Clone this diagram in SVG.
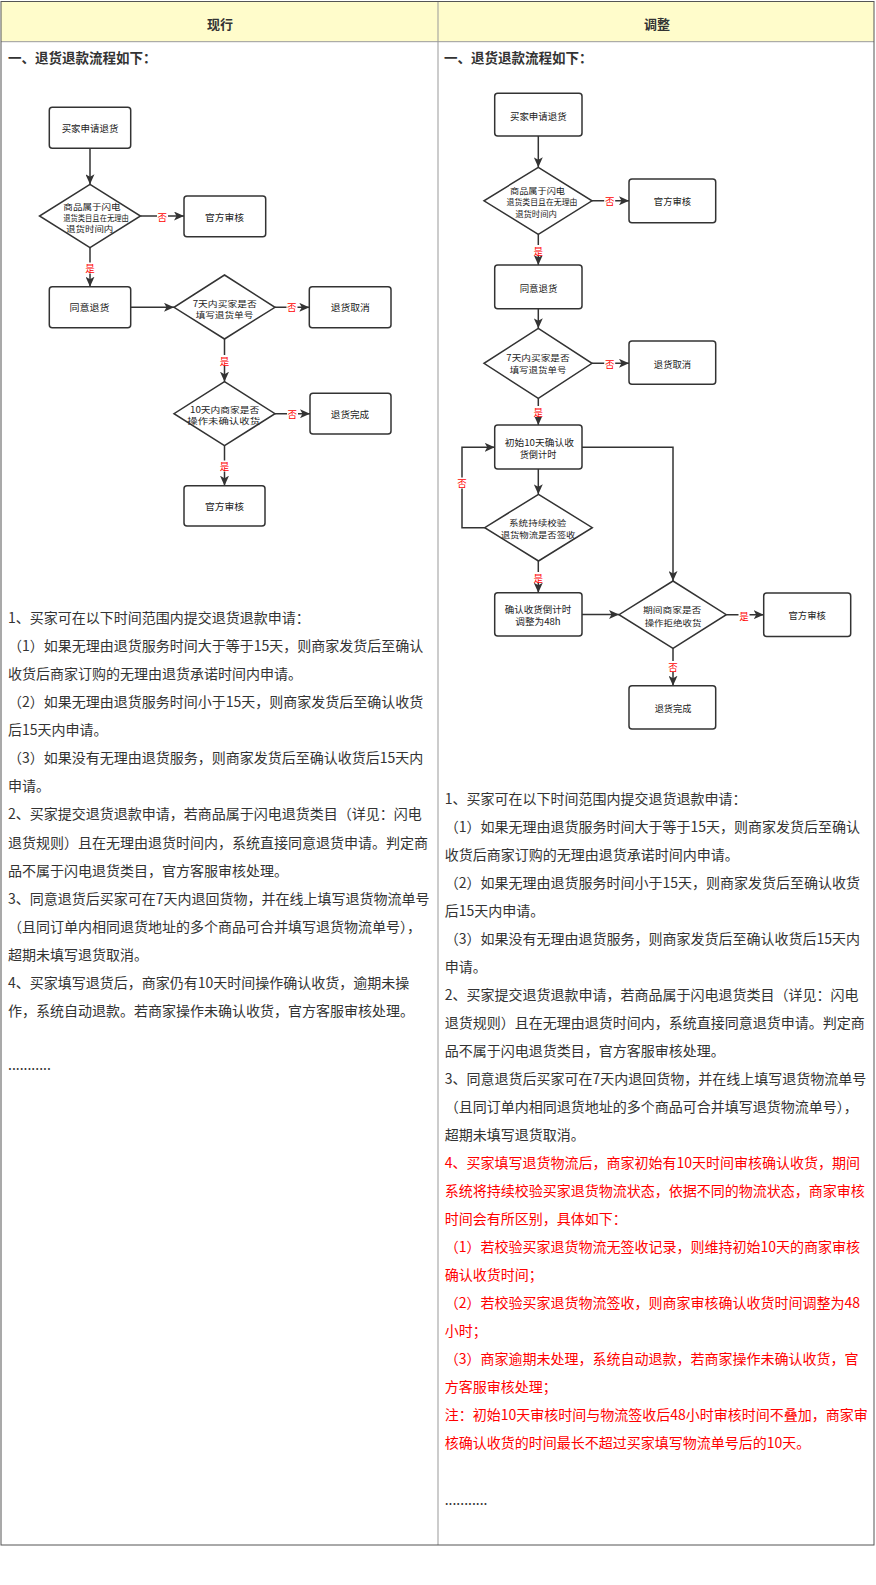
<svg xmlns="http://www.w3.org/2000/svg" width="876" height="1585" viewBox="0 0 876 1585">
<style>
.cjk{font-family:"Noto Sans CJK SC","Noto Sans",sans-serif}
.hd{font-size:13px;font-weight:bold;fill:#333;text-anchor:middle;dominant-baseline:central}
.h1{font-size:13.5px;font-weight:bold;fill:#333;dominant-baseline:central}
.bt{font-size:14px;fill:#333;dominant-baseline:central}
.rd{fill:#f00}
.nb{fill:#fff;stroke:#333;stroke-width:1.5}
.nt{font-size:9.5px;fill:#222;text-anchor:middle;dominant-baseline:central}
.dt{font-size:8.5px}
.ln{fill:none;stroke:#333;stroke-width:1.5}
.lb{font-size:9.5px;fill:#f00;text-anchor:middle;dominant-baseline:central}
.lbg{fill:#fff}
</style>
<defs>
<marker id="arr" markerUnits="userSpaceOnUse" markerWidth="10" markerHeight="9" refX="10" refY="4.5" orient="auto">
<path d="M0,0 L10,4.5 L0,9 L2.5,4.5 z" fill="#333"/>
</marker>
</defs>
<rect width="876" height="1585" fill="#fff"/>
<g id="table">
<rect x="1" y="1.5" width="873" height="40" fill="#fffccb"/>
<line x1="1" y1="41.7" x2="874" y2="41.7" stroke="#999" stroke-width="1"/>
<line x1="438" y1="1.5" x2="438" y2="1545" stroke="#999" stroke-width="1"/>
<rect x="1" y="1.5" width="873" height="1543.5" fill="none" stroke="#555" stroke-width="1"/>
<text class="cjk hd" x="220" y="23">现行</text>
<text class="cjk hd" x="657" y="23">调整</text>
<text class="cjk h1" x="8" y="57">一、退货退款流程如下：</text>
<text class="cjk h1" x="444" y="57">一、退货退款流程如下：</text>
</g>
<g id="connectors">
<line class="ln" x1="90" y1="148.3" x2="90" y2="184.3" marker-end="url(#arr)"/>
<line class="ln" x1="140.5" y1="216" x2="184" y2="216" marker-end="url(#arr)"/>
<line class="ln" x1="90" y1="247.7" x2="90" y2="286.7" marker-end="url(#arr)"/>
<line class="ln" x1="130.7" y1="307.3" x2="174" y2="307.3" marker-end="url(#arr)"/>
<line class="ln" x1="275" y1="307.3" x2="309.3" y2="307.3" marker-end="url(#arr)"/>
<line class="ln" x1="224.5" y1="339" x2="224.5" y2="381.7" marker-end="url(#arr)"/>
<line class="ln" x1="275" y1="413.7" x2="310" y2="413.7" marker-end="url(#arr)"/>
<line class="ln" x1="224.5" y1="445.7" x2="224.5" y2="485.7" marker-end="url(#arr)"/>
<line class="ln" x1="538.3" y1="136" x2="538.3" y2="167.3" marker-end="url(#arr)"/>
<line class="ln" x1="592" y1="200.8" x2="629" y2="200.8" marker-end="url(#arr)"/>
<line class="ln" x1="538.3" y1="234.3" x2="538.3" y2="265" marker-end="url(#arr)"/>
<line class="ln" x1="538.3" y1="308.7" x2="538.3" y2="328.3" marker-end="url(#arr)"/>
<line class="ln" x1="592" y1="363.3" x2="629" y2="363.3" marker-end="url(#arr)"/>
<line class="ln" x1="538.3" y1="398.3" x2="538.3" y2="425" marker-end="url(#arr)"/>
<line class="ln" x1="538.3" y1="469" x2="538.3" y2="494.3" marker-end="url(#arr)"/>
<polyline class="ln" points="484.7,527.7 462,527.7 462,447.3 494.7,447.3" marker-end="url(#arr)"/>
<polyline class="ln" points="582,447.3 673,447.3 673,581" marker-end="url(#arr)"/>
<line class="ln" x1="538.3" y1="561" x2="538.3" y2="592.7" marker-end="url(#arr)"/>
<line class="ln" x1="582" y1="614.5" x2="619" y2="614.5" marker-end="url(#arr)"/>
<line class="ln" x1="726.3" y1="614.7" x2="763.7" y2="614.7" marker-end="url(#arr)"/>
<line class="ln" x1="673" y1="648.3" x2="673" y2="685.7" marker-end="url(#arr)"/>
<rect class="lbg" x="157" y="211" width="11" height="11"/><text class="cjk lb" x="162.3" y="216.5">否</text>
<rect class="lbg" x="84.5" y="262.5" width="11" height="11"/><text class="cjk lb" x="90" y="268.3">是</text>
<rect class="lbg" x="286.5" y="302" width="11" height="11"/><text class="cjk lb" x="291.7" y="307.3">否</text>
<rect class="lbg" x="219" y="355" width="11" height="11"/><text class="cjk lb" x="224.5" y="360.7">是</text>
<rect class="lbg" x="287" y="408" width="11" height="11"/><text class="cjk lb" x="292.3" y="413.5">否</text>
<rect class="lbg" x="219" y="460.5" width="11" height="11"/><text class="cjk lb" x="224.5" y="466">是</text>
<rect class="lbg" x="604.2" y="195.5" width="11" height="11"/><text class="cjk lb" x="609.7" y="201.2">否</text>
<rect class="lbg" x="532.8" y="245" width="11" height="11"/><text class="cjk lb" x="538.3" y="250.7">是</text>
<rect class="lbg" x="604.2" y="358" width="11" height="11"/><text class="cjk lb" x="609.7" y="363.5">否</text>
<rect class="lbg" x="532.8" y="406" width="11" height="11"/><text class="cjk lb" x="538.3" y="411.7">是</text>
<rect class="lbg" x="456.5" y="477.5" width="11" height="11"/><text class="cjk lb" x="462" y="483.3">否</text>
<rect class="lbg" x="532.8" y="572" width="11" height="11"/><text class="cjk lb" x="538.3" y="577.7">是</text>
<rect class="lbg" x="738.5" y="610" width="11" height="11"/><text class="cjk lb" x="744" y="615.5">是</text>
<rect class="lbg" x="667.5" y="661" width="11" height="11"/><text class="cjk lb" x="673" y="666.7">否</text>
</g>
<g id="L_apply">
<rect class="nb" x="49.3" y="107.3" width="81.4" height="41" rx="3"/>
<text class="cjk nt" x="90" y="127.8" textLength="56.7" lengthAdjust="spacingAndGlyphs">买家申请退货</text>
</g>
<g id="L_dec_flash">
<polygon class="nb" points="90,184.3 140.5,216 90,247.7 39.5,216"/>
<text class="cjk nt dt" x="92" y="206" textLength="57.3" lengthAdjust="spacingAndGlyphs">商品属于闪电</text>
<text class="cjk nt dt" x="96" y="217.2" textLength="65.7" lengthAdjust="spacingAndGlyphs">退货类目且在无理由</text>
<text class="cjk nt dt" x="89.7" y="228.3" textLength="47.3" lengthAdjust="spacingAndGlyphs">退货时间内</text>
</g>
<g id="L_official1">
<rect class="nb" x="184" y="196" width="81.7" height="40.7" rx="3"/>
<text class="cjk nt" x="224.5" y="216.5" textLength="39" lengthAdjust="spacingAndGlyphs">官方审核</text>
</g>
<g id="L_agree">
<rect class="nb" x="49.3" y="286.7" width="81.4" height="41" rx="3"/>
<text class="cjk nt" x="89.5" y="307.3" textLength="40" lengthAdjust="spacingAndGlyphs">同意退货</text>
</g>
<g id="L_dec_7days">
<polygon class="nb" points="224.5,275 275,307.3 224.5,339 174,307.3"/>
<text class="cjk nt dt" x="224.7" y="302.6" textLength="64" lengthAdjust="spacingAndGlyphs">7天内买家是否</text>
<text class="cjk nt dt" x="224.5" y="313.8" textLength="57.7" lengthAdjust="spacingAndGlyphs">填写退货单号</text>
</g>
<g id="L_cancel">
<rect class="nb" x="309.3" y="286.7" width="81.7" height="41" rx="3"/>
<text class="cjk nt" x="350.3" y="307.3" textLength="39.3" lengthAdjust="spacingAndGlyphs">退货取消</text>
</g>
<g id="L_dec_10days">
<polygon class="nb" points="224.5,381.7 275,413.7 224.5,445.7 174,413.7"/>
<text class="cjk nt dt" x="224.7" y="408.7" textLength="69.3" lengthAdjust="spacingAndGlyphs">10天内商家是否</text>
<text class="cjk nt dt" x="223.7" y="420.3" textLength="72.7" lengthAdjust="spacingAndGlyphs">操作未确认收货</text>
</g>
<g id="L_done">
<rect class="nb" x="310" y="393.3" width="81" height="40.7" rx="3"/>
<text class="cjk nt" x="350" y="413.5" textLength="38.3" lengthAdjust="spacingAndGlyphs">退货完成</text>
</g>
<g id="L_official2">
<rect class="nb" x="184" y="485.7" width="81" height="40.3" rx="3"/>
<text class="cjk nt" x="224.5" y="505.8" textLength="39" lengthAdjust="spacingAndGlyphs">官方审核</text>
</g>
<g id="R_apply">
<rect class="nb" x="494.7" y="93.3" width="87.3" height="42.7" rx="3"/>
<text class="cjk nt" x="538.3" y="116" textLength="56.7" lengthAdjust="spacingAndGlyphs">买家申请退货</text>
</g>
<g id="R_dec_flash">
<polygon class="nb" points="538.3,167.3 592,200.8 538.3,234.3 484,200.8"/>
<text class="cjk nt dt" x="537.5" y="189.7" textLength="55" lengthAdjust="spacingAndGlyphs">商品属于闪电</text>
<text class="cjk nt dt" x="542" y="201.3" textLength="71" lengthAdjust="spacingAndGlyphs">退货类目且在无理由</text>
<text class="cjk nt dt" x="536" y="212.9" textLength="41.7" lengthAdjust="spacingAndGlyphs">退货时间内</text>
</g>
<g id="R_official1">
<rect class="nb" x="629" y="179" width="86.7" height="43.7" rx="3"/>
<text class="cjk nt" x="672.5" y="201" textLength="37.3" lengthAdjust="spacingAndGlyphs">官方审核</text>
</g>
<g id="R_agree">
<rect class="nb" x="494.7" y="265" width="87.3" height="43.7" rx="3"/>
<text class="cjk nt" x="538.5" y="288" textLength="37.7" lengthAdjust="spacingAndGlyphs">同意退货</text>
</g>
<g id="R_dec_7days">
<polygon class="nb" points="538.3,328.3 592,363.3 538.3,398.3 484,363.3"/>
<text class="cjk nt dt" x="538" y="357.4" textLength="63.3" lengthAdjust="spacingAndGlyphs">7天内买家是否</text>
<text class="cjk nt dt" x="538" y="369" textLength="56.7" lengthAdjust="spacingAndGlyphs">填写退货单号</text>
</g>
<g id="R_cancel">
<rect class="nb" x="629" y="341" width="86.7" height="43.3" rx="3"/>
<text class="cjk nt" x="672.5" y="363.5" textLength="37.3" lengthAdjust="spacingAndGlyphs">退货取消</text>
</g>
<g id="R_countdown10">
<rect class="nb" x="494.7" y="425" width="87.3" height="44" rx="3"/>
<text class="cjk nt" x="539.3" y="441.8" textLength="69.3" lengthAdjust="spacingAndGlyphs">初始10天确认收</text>
<text class="cjk nt" x="538" y="454.3" textLength="36.7" lengthAdjust="spacingAndGlyphs">货倒计时</text>
</g>
<g id="R_dec_signed">
<polygon class="nb" points="538.5,494.3 592.3,527.7 538.5,561 484.7,527.7"/>
<text class="cjk nt dt" x="537.7" y="521.5" textLength="57.3" lengthAdjust="spacingAndGlyphs">系统持续校验</text>
<text class="cjk nt dt" x="538" y="534" textLength="74.7" lengthAdjust="spacingAndGlyphs">退货物流是否签收</text>
</g>
<g id="R_countdown48">
<rect class="nb" x="494.7" y="592.7" width="87.3" height="43.3" rx="3"/>
<text class="cjk nt" x="538" y="608.6" textLength="66.7" lengthAdjust="spacingAndGlyphs">确认收货倒计时</text>
<text class="cjk nt" x="538" y="621.2" textLength="45.3" lengthAdjust="spacingAndGlyphs">调整为48h</text>
</g>
<g id="R_dec_reject">
<polygon class="nb" points="673,581 726.3,614.7 673,648.3 619,614.7"/>
<text class="cjk nt dt" x="672.2" y="609" textLength="58.3" lengthAdjust="spacingAndGlyphs">期间商家是否</text>
<text class="cjk nt dt" x="673" y="621.7" textLength="56.7" lengthAdjust="spacingAndGlyphs">操作拒绝收货</text>
</g>
<g id="R_official2">
<rect class="nb" x="763.7" y="593" width="87" height="43.5" rx="3"/>
<text class="cjk nt" x="807.2" y="615" textLength="37.3" lengthAdjust="spacingAndGlyphs">官方审核</text>
</g>
<g id="R_done">
<rect class="nb" x="629" y="685.7" width="86.7" height="43.3" rx="3"/>
<text class="cjk nt" x="673" y="708" textLength="36.7" lengthAdjust="spacingAndGlyphs">退货完成</text>
</g>
<g id="left_text" class="cjk bt">
<text x="8" y="616.7">1、买家可在以下时间范围内提交退货退款申请：</text>
<text x="8" y="644.8">（1）如果无理由退货服务时间大于等于15天，则商家发货后至确认</text>
<text x="8" y="672.9">收货后商家订购的无理由退货承诺时间内申请。</text>
<text x="8" y="701">（2）如果无理由退货服务时间小于15天，则商家发货后至确认收货</text>
<text x="8" y="729.1">后15天内申请。</text>
<text x="8" y="757.2">（3）如果没有无理由退货服务，则商家发货后至确认收货后15天内</text>
<text x="8" y="785.3">申请。</text>
<text x="8" y="813.4">2、买家提交退货退款申请，若商品属于闪电退货类目（详见：闪电</text>
<text x="8" y="841.5">退货规则）且在无理由退货时间内，系统直接同意退货申请。判定商</text>
<text x="8" y="869.6">品不属于闪电退货类目，官方客服审核处理。</text>
<text x="8" y="897.7">3、同意退货后买家可在7天内退回货物，并在线上填写退货物流单号</text>
<text x="8" y="925.8">（且同订单内相同退货地址的多个商品可合并填写退货物流单号），</text>
<text x="8" y="953.9">超期未填写退货取消。</text>
<text x="8" y="982">4、买家填写退货后，商家仍有10天时间操作确认收货，逾期未操</text>
<text x="8" y="1010.1">作，系统自动退款。若商家操作未确认收货，官方客服审核处理。</text>
<text x="8" y="1064">...........</text>
</g>
<g id="right_text" class="cjk bt">
<text x="444.7" y="798.3">1、买家可在以下时间范围内提交退货退款申请：</text>
<text x="444.7" y="826.3">（1）如果无理由退货服务时间大于等于15天，则商家发货后至确认</text>
<text x="444.7" y="854.3">收货后商家订购的无理由退货承诺时间内申请。</text>
<text x="444.7" y="882.3">（2）如果无理由退货服务时间小于15天，则商家发货后至确认收货</text>
<text x="444.7" y="910.3">后15天内申请。</text>
<text x="444.7" y="938.3">（3）如果没有无理由退货服务，则商家发货后至确认收货后15天内</text>
<text x="444.7" y="966.3">申请。</text>
<text x="444.7" y="994.3">2、买家提交退货退款申请，若商品属于闪电退货类目（详见：闪电</text>
<text x="444.7" y="1022.3">退货规则）且在无理由退货时间内，系统直接同意退货申请。判定商</text>
<text x="444.7" y="1050.3">品不属于闪电退货类目，官方客服审核处理。</text>
<text x="444.7" y="1078.3">3、同意退货后买家可在7天内退回货物，并在线上填写退货物流单号</text>
<text x="444.7" y="1106.3">（且同订单内相同退货地址的多个商品可合并填写退货物流单号），</text>
<text x="444.7" y="1134.3">超期未填写退货取消。</text>
<text class="rd" x="444.7" y="1162.3">4、买家填写退货物流后，商家初始有10天时间审核确认收货，期间</text>
<text class="rd" x="444.7" y="1190.3">系统将持续校验买家退货物流状态，依据不同的物流状态，商家审核</text>
<text class="rd" x="444.7" y="1218.3">时间会有所区别，具体如下：</text>
<text class="rd" x="444.7" y="1246.3">（1）若校验买家退货物流无签收记录，则维持初始10天的商家审核</text>
<text class="rd" x="444.7" y="1274.3">确认收货时间；</text>
<text class="rd" x="444.7" y="1302.3">（2）若校验买家退货物流签收，则商家审核确认收货时间调整为48</text>
<text class="rd" x="444.7" y="1330.3">小时；</text>
<text class="rd" x="444.7" y="1358.3">（3）商家逾期未处理，系统自动退款，若商家操作未确认收货，官</text>
<text class="rd" x="444.7" y="1386.3">方客服审核处理；</text>
<text class="rd" x="444.7" y="1414.3">注：初始10天审核时间与物流签收后48小时审核时间不叠加，商家审</text>
<text class="rd" x="444.7" y="1442.3">核确认收货的时间最长不超过买家填写物流单号后的10天。</text>
<text x="444.7" y="1498.5">...........</text>
</g>
</svg>
